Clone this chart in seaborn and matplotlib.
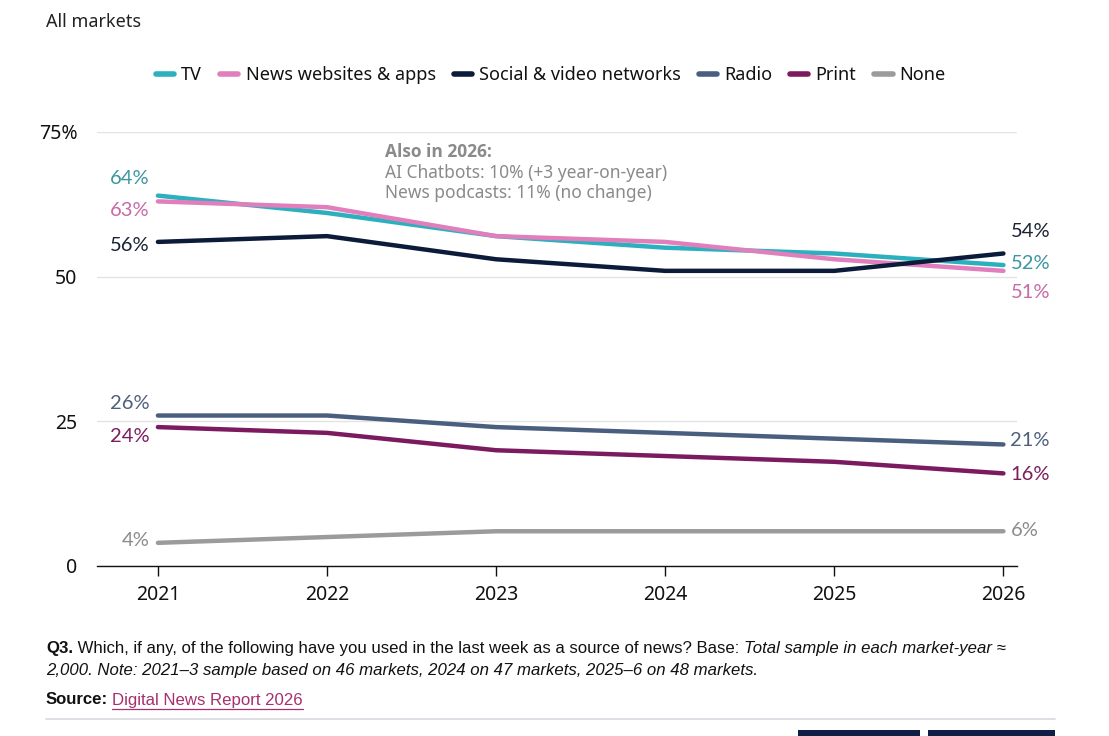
import matplotlib
matplotlib.use("Agg")
import matplotlib.pyplot as plt
import seaborn as sns
import pandas as pd
from matplotlib.lines import Line2D
from matplotlib.patches import Rectangle
from matplotlib import font_manager

years = [2021, 2022, 2023, 2024, 2025, 2026]
tv = [64, 61, 57, 55, 54, 52]
news_web = [63, 62, 57, 56, 53, 51]
social = [56, 57, 53, 51, 51, 54]
radio = [26, 26, 24, 23, 22, 21]
print_ = [24, 23, 20, 19, 18, 16]
none = [4, 5, 6, 6, 6, 6]

series_names = ["TV", "News websites & apps", "Social & video networks", "Radio", "Print", "None"]
series_values = [tv, news_web, social, radio, print_, none]
line_colors = ["#2cb0be", "#e07fbb", "#0d1b3a", "#4a5f80", "#7b1a5f", "#9b9b9b"]
label_colors = ["#3c96a2", "#c76aa6", "#1a2233", "#4e607c", "#7b1d5e", "#8c8c8c"]
# vertical nudges (pixels, + = up) for start / end labels
start_nudge = [17, -9, -4, 12, -9, 2]
end_nudge = [2, -22, 22, 4, -1, 1]

rows = []
for name, vals in zip(series_names, series_values):
    for y, v in zip(years, vals):
        rows.append({"year": y, "value": v, "series": name})
df = pd.DataFrame(rows)

sns.set_theme(style="white")
plt.rcParams["font.family"] = ["Noto Sans", "DejaVu Sans"]

fig = plt.figure(figsize=(11.09, 7.36), dpi=100)
ax = fig.add_axes([0.0875, 0.231, 0.8295, 0.5897])

sns.lineplot(data=df, x="year", y="value", hue="series", hue_order=series_names,
             palette=dict(zip(series_names, line_colors)), linewidth=3.2,
             legend=False, ax=ax, solid_capstyle="round")

ax.set_xlim(2020.64, 2026.08)
ax.set_ylim(0, 75)
ax.set_yticks([0, 25, 50, 75])
ax.set_yticklabels(["0", "25", "50", "75%"], fontsize=14, color="#111111")
ax.set_xticks(years)
ax.set_xticklabels([str(y) for y in years], fontsize=14, color="#111111")
ax.set_xlabel("")
ax.set_ylabel("")
for s in ["top", "right", "left"]:
    ax.spines[s].set_visible(False)
ax.spines["bottom"].set_color("#111111")
ax.spines["bottom"].set_linewidth(1.0)
ax.grid(axis="y", color="#e3e3e3", linewidth=1.0)
ax.set_axisbelow(True)
ax.tick_params(axis="x", which="major", bottom=True, length=7, width=1, color="#111111", pad=7)
ax.tick_params(axis="y", left=False, pad=8)

# data labels
for name, vals, lc, sn, en in zip(series_names, series_values, label_colors, start_nudge, end_nudge):
    ax.annotate(f"{vals[0]}%", xy=(years[0], vals[0]), xytext=(-8, sn), textcoords="offset pixels",
                ha="right", va="center", fontsize=14.5, color=lc, family="Lato")
    ax.annotate(f"{vals[-1]}%", xy=(years[-1], vals[-1]), xytext=(7, en), textcoords="offset pixels",
                ha="left", va="center", fontsize=14.5, color=lc, family="Lato")

# "Also in 2026" note
fig.text(385 / 1109, 1 - 152 / 736, "Also in 2026:", fontsize=12.5, color="#8a8a8a",
         fontweight="bold", va="center", ha="left", family="Open Sans")
fig.text(385 / 1109, 1 - 173 / 736, "AI Chatbots: 10% (+3 year-on-year)", fontsize=12.5,
         color="#8a8a8a", va="center", ha="left")
fig.text(385 / 1109, 1 - 193 / 736, "News podcasts: 11% (no change)", fontsize=12.5,
         color="#8a8a8a", va="center", ha="left")

# Title
fig.text(46 / 1109, 1 - 22 / 736, "All markets", fontsize=13, color="#222222", va="center", ha="left")

# Legend
handles = [Line2D([0], [0], color=c, linewidth=4, solid_capstyle="round") for c in line_colors]
fig.legend(handles, series_names, loc="center", bbox_to_anchor=(551 / 1109, 1 - 75 / 736),
           ncol=6, frameon=False, fontsize=13, handlelength=1.0, handletextpad=0.4,
           columnspacing=1.0, labelcolor="#111111")

# Footnote (choose a narrow family when available, fit to width)
available = {f.name for f in font_manager.fontManager.ttflist}
foot_family = "Liberation Sans Narrow" if "Liberation Sans Narrow" in available else "Liberation Sans"
W, H = fig.bbox.width, fig.bbox.height


def place_row(parts, x0, ypix, size):
    arts = []
    x = x0
    for txt, kw in parts:
        opts = {"color": "#111111"}
        opts.update(kw)
        t = fig.text(x / W, 1 - ypix / 736, txt, fontsize=size, va="center", ha="left",
                     family=foot_family, **opts)
        fig.canvas.draw()
        bb = t.get_window_extent(fig.canvas.get_renderer())
        x = bb.x1
        arts.append(t)
    return arts, x


row1 = [("Q3.", {"fontweight": "bold"}),
        (" Which, if any, of the following have you used in the last week as a source of news? Base: ", {}),
        ("Total sample in each market-year \u2248", {"style": "italic"})]
size = 12.5
arts, xend = place_row(row1, 46, 648, size)
scale = (1008 - 46) / (xend - 46)
for a in arts:
    a.remove()
size = size * scale
arts, xend = place_row(row1, 46, 648, size)

place_row([("2,000. Note: 2021\u20133 sample based on 46 markets, 2024 on 47 markets, 2025\u20136 on 48 markets.",
            {"style": "italic"})], 46, 670, size)
src, xs = place_row([("Source:", {"fontweight": "bold"})], 46, 700, size)
link, xl = place_row([("Digital News Report 2026", {"color": "#a5306e"})], xs + 4, 700, size)
lb = link[0].get_window_extent(fig.canvas.get_renderer())
fig.add_artist(Line2D([lb.x0 / W, lb.x1 / W], [(lb.y0 - 1) / H] * 2, color="#a5306e", linewidth=0.9,
                      transform=fig.transFigure))

# bottom rule and logo blocks
fig.add_artist(Line2D([46 / 1109, 1055 / 1109], [1 - 719 / 736] * 2, color="#d8d8e0", linewidth=1.2,
                      transform=fig.transFigure))
fig.add_artist(Rectangle((798 / 1109, 0), 122 / 1109, 6 / 736, transform=fig.transFigure,
                         color="#0f1f45", linewidth=0))
fig.add_artist(Rectangle((928 / 1109, 0), 127 / 1109, 6 / 736, transform=fig.transFigure,
                         color="#0f1f45", linewidth=0))

fig.savefig("out.png", dpi=100)
